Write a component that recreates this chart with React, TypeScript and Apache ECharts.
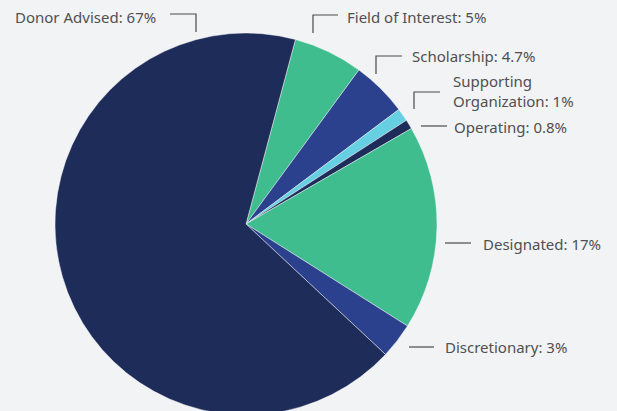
import React, { useEffect, useRef } from "react";
import * as echarts from "echarts";

// Categories in drawing order (clockwise from the top)
const categories = [
  "Field of Interest",
  "Scholarship",
  "Supporting Organization",
  "Operating",
  "Designated",
  "Discretionary",
  "Donor Advised",
];
// Slice shares (percent of the circle)
const sliceShares = [5.9, 4.7, 1.1, 0.8, 17.3, 3.0, 67.2];
// Percentages as printed in the labels
const labelPercents = ["5%", "4.7%", "1%", "0.8%", "17%", "3%", "67%"];
const colors = ["#40bd8f", "#2b418e", "#67cfe2", "#1e2c5a", "#40bd8f", "#2b418e", "#1e2c5a"];

// Label placement (text anchor and leader line) for each slice
const labelLayouts = [
  { x: 347, y: 17, line: [[313, 33], [313, 15], [338, 15]] },
  { x: 412, y: 56, line: [[376, 74], [376, 56], [402, 56]] },
  { x: 453, y: 91, line: [[414, 109], [414, 92], [440, 92]] },
  { x: 454, y: 127, line: [[421, 126], [447, 126]] },
  { x: 483, y: 244, line: [[445, 243], [471, 243]] },
  { x: 445, y: 347, line: [[409, 347], [434, 347]] },
  { x: 15, y: 17, line: [[170, 14], [196, 14], [196, 32]] },
];

export default function App() {
  const ref = useRef<HTMLDivElement>(null);
  useEffect(() => {
    if (!ref.current) return;
    const chart = echarts.init(ref.current, undefined, { renderer: "svg" });
    chart.setOption({
      animation: false,
      backgroundColor: "#f2f3f5",
      series: [
        {
          type: "pie",
          center: [246, 224],
          radius: 191,
          startAngle: 75,
          clockwise: true,
          avoidLabelOverlap: false,
          data: categories.map((name, i) => ({
            name,
            value: sliceShares[i],
            itemStyle: { color: colors[i] },
          })),
          itemStyle: { borderColor: "rgba(255,255,255,0.55)", borderWidth: 0.8 },
          label: {
            show: true,
            position: "outside",
            fontFamily: "Noto Sans",
            fontSize: 15,
            color: "#505050",
            lineHeight: 20,
            formatter: (p: any) => {
              const nm = p.name === "Supporting Organization" ? "Supporting\nOrganization" : p.name;
              return nm + ": " + labelPercents[p.dataIndex];
            },
          },
          labelLine: {
            show: true,
            lineStyle: { color: "#4a4a4a", width: 1.2 },
          },
          labelLayout: (params: any) => {
            const l = labelLayouts[params.dataIndex];
            return {
              x: l.x,
              y: l.y,
              align: "left",
              verticalAlign: "middle",
              labelLinePoints: l.line,
            };
          },
          emphasis: { disabled: true },
        },
      ],
    });
    return () => chart.dispose();
  }, []);
  return (
    <div
      ref={ref}
      style={{ position: "fixed", left: 0, top: 0, width: 617, height: 411 }}
    />
  );
}
